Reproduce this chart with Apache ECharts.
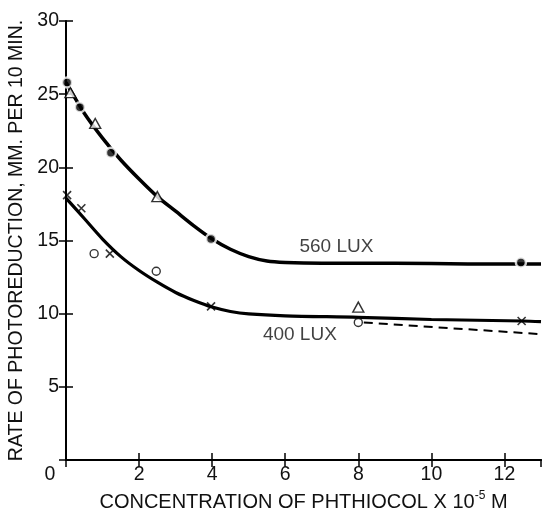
<!DOCTYPE html>
<html><head><meta charset="utf-8">
<script src="https://cdn.jsdelivr.net/npm/echarts@6/dist/echarts.min.js"></script>
<style>html,body{margin:0;padding:0;background:#fff}#c{width:542px;height:510px}</style>
</head><body><div id="c"></div>
<script>
// Tick labels
const xTicks = [0, 2, 4, 6, 8, 10, 12];
const yTicks = [0, 5, 10, 15, 20, 25, 30];
// Fitted curves
const curve560 = [[0,25.8],[0.5,23.7],[1,22.0],[1.5,20.5],[2,19.2],[2.5,18.0],[3,17.0],[3.5,16.0],[4,15.1],[4.5,14.4],[5,13.9],[5.5,13.6],[6,13.5],[7,13.45],[9,13.45],[11,13.4],[13,13.4]];
const curve400 = [[0,17.9],[0.5,16.5],[1,15.1],[1.5,13.9],[2,12.95],[2.5,12.15],[3,11.45],[3.5,10.9],[4,10.45],[4.5,10.15],[5,9.98],[6,9.85],[8,9.75],[10,9.6],[12.5,9.5],[13,9.45]];
const dashed400 = [[8.15,9.4],[13,8.6]];
// Observed points
const dots560 = [[0.03,25.8],[0.38,24.1],[1.23,21.0],[3.97,15.1],[12.45,13.5]];
const triangles = [[0.12,25.1],[0.8,23.0],[2.5,18.0],[8.0,10.45]];
const crosses400 = [[0.03,18.1],[0.42,17.2],[1.2,14.1],[3.97,10.5],[12.47,9.5]];
const circles = [[0.77,14.1],[2.47,12.9],[8.0,9.4]];
const labels = [{text:'560 LUX', x:7.4, y:14.55},{text:'400 LUX', x:6.4, y:8.55}];

const FONT = "'Liberation Sans', Arial, sans-serif";
const chart = echarts.init(document.getElementById('c'), null, {renderer:'canvas'});
const axisLine = {show:true, lineStyle:{color:'#000', width:2}};
const tickIn = {show:true, inside:true, length:7, lineStyle:{color:'#000', width:1.5}};
const xBase = {type:'value', min:0, max:13, interval:2, splitLine:{show:false}, axisLine, axisTick:tickIn};
const yBase = {type:'value', min:0, max:30, interval:5, splitLine:{show:false}, axisLine, axisTick:tickIn};
const crossPath = 'path://M0,0L10,10M10,0L0,10';

chart.setOption({
  animation:false,
  backgroundColor:'#fff',
  grid:{left:66, right:1, top:21, bottom:50, containLabel:false, outerBoundsMode:'none'},
  xAxis:[
    Object.assign({}, xBase, {position:'bottom',
      name:'CONCENTRATION OF PHTHIOCOL X 10{sup|-5} M', nameLocation:'middle', nameGap:30,
      nameTextStyle:{fontFamily:FONT, fontSize:20, color:'#111', rich:{sup:{fontFamily:FONT,fontSize:12,verticalAlign:'top',padding:[0,0,12,0],color:'#111'}}},
      axisLabel:{fontFamily:FONT, fontSize:19.5, color:'#111', margin:5, showMaxLabel:false,
        formatter: v => v === 0 ? '{z|0}' : (v === 13 ? '' : String(v)),
        rich:{z:{fontFamily:FONT, fontSize:19.5, color:'#111', padding:[0,32,0,0]}}}}),
    Object.assign({}, xBase, {position:'top', axisLabel:{show:false}})
  ],
  yAxis:[
    Object.assign({}, yBase, {position:'left',
      name:'RATE OF PHOTOREDUCTION, MM. PER 10 MIN.', nameLocation:'middle', nameGap:34,
      nameTextStyle:{fontFamily:FONT, fontSize:19.5, color:'#111'},
      axisLabel:{fontFamily:FONT, fontSize:19.5, color:'#111', margin:7, formatter: v => v === 0 ? '' : String(v)}}),
    Object.assign({}, yBase, {position:'right', axisLine:{show:false}, axisLabel:{show:false}})
  ],
  series:[
    {type:'line', data:curve560, smooth:0.3, showSymbol:false, lineStyle:{color:'#000', width:3.5}, z:2},
    {type:'line', data:curve400, smooth:0.3, showSymbol:false, lineStyle:{color:'#000', width:3.2}, z:2},
    {type:'line', data:dashed400, showSymbol:false, lineStyle:{color:'#000', width:2, type:[9,6]}, z:2},
    {type:'scatter', data:dots560, symbol:'circle', symbolSize:10, itemStyle:{color:'#000', borderColor:'#fff', borderWidth:2.5}, z:5},
    {type:'scatter', data:triangles, symbol:'triangle', symbolSize:[11,10], itemStyle:{color:'#fff', borderColor:'#000', borderWidth:1.4}, z:5},
    {type:'scatter', data:crosses400, symbol:crossPath, symbolSize:8, itemStyle:{color:'none', borderColor:'#000', borderWidth:1.6}, z:5},
    {type:'scatter', data:circles, symbol:'circle', symbolSize:8, itemStyle:{color:'#fff', borderColor:'#000', borderWidth:1.4}, z:5},
    {type:'scatter', data:labels.map(l=>({value:[l.x,l.y], name:l.text})), symbolSize:0, silent:true,
      label:{show:true, position:'inside', formatter:p=>p.name, fontFamily:FONT, fontSize:19, color:'#111'}, z:6}
  ]
});
</script></body></html>
